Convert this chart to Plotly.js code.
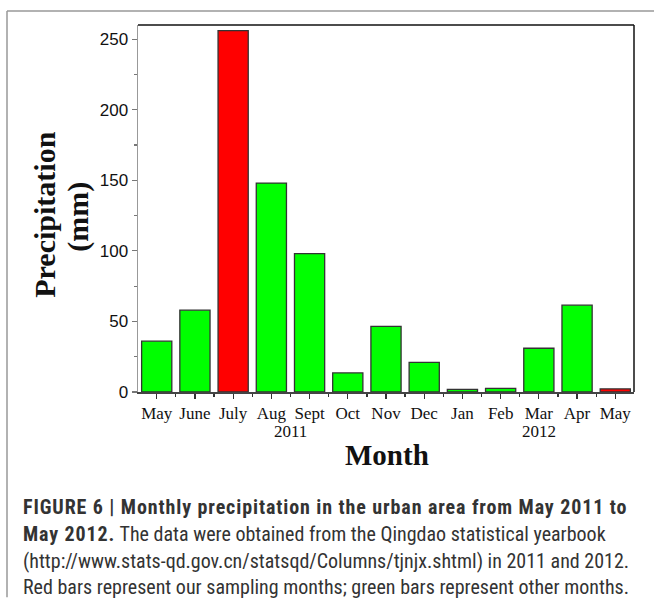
<!DOCTYPE html>
<html>
<head>
<meta charset="utf-8">
<script src="https://cdn.plot.ly/plotly-3.0.1.min.js"></script>
<style>
  html, body { margin: 0; padding: 0; background: #fff; }
  #chart { width: 654px; height: 598px; }
</style>
</head>
<body>
<div id="chart"></div>
<script>
// ---- data ----
const months = ["May", "June", "July", "Aug", "Sept", "Oct", "Nov", "Dec", "Jan", "Feb", "Mar", "Apr", "May"];
const precipitation = [36, 58, 256, 148, 98, 13.5, 46.5, 21, 1.8, 2.5, 31, 61.5, 2.2];
const sampled = [false, false, true, false, false, false, false, false, false, false, false, false, true];
const yTickVals = [0, 50, 100, 150, 200, 250];
const years = ["2011", "2012"];
const yearCenters = [3.5, 10];
const BOLD = '<span style="font-weight:bold;letter-spacing:0.9px">';
const captionLines = [
  BOLD + "FIGURE 6 | Monthly precipitation in the urban area from May 2011 to</span>",
  BOLD + "May 2012.</span> The data were obtained from the Qingdao statistical yearbook",
  "(http://www.stats-qd.gov.cn/statsqd/Columns/tjnjx.shtml) in 2011 and 2012.",
  "Red bars represent our sampling months; green bars represent other months."
];

// ---- geometry ----
const W = 654, H = 598;
const M = { l: 138, r: 20, t: 25, b: 205.5 };
const PW = W - M.l - M.r, PH = H - M.t - M.b;
const px2x = px => (px - M.l) / PW;
const px2y = py => (H - M.b - py) / PH;

const idx = months.map((_, i) => i);
const colors = sampled.map(s => s ? "#ff0000" : "#00ff00");

const trace = {
  type: "bar",
  x: idx,
  y: precipitation,
  width: 0.79,
  marker: { color: colors, line: { color: "#333", width: 1.3 } },
  hoverinfo: "skip"
};

const serif = "'Liberation Serif', 'Times New Roman', serif";
const sans = "'Liberation Sans', Arial, sans-serif";
const narrow = "'Liberation Sans Narrow', 'Arial Narrow', 'Roboto Condensed', sans-serif";

const annotations = [];
years.forEach((yr, i) => annotations.push({
  text: yr, xref: "x", yref: "paper", x: yearCenters[i], y: px2y(432),
  showarrow: false, xanchor: "center", yanchor: "middle",
  font: { family: serif, size: 17, color: "#111" }
}));
annotations.push({
  text: "<b>Month</b>", xref: "paper", yref: "paper", x: px2x(387), y: px2y(456),
  showarrow: false, xanchor: "center", yanchor: "middle",
  font: { family: serif, size: 29, color: "#111" }
});
annotations.push({
  text: "<b>Precipitation</b>", xref: "paper", yref: "paper", x: px2x(45), y: px2y(215),
  showarrow: false, xanchor: "center", yanchor: "middle", textangle: -90,
  font: { family: serif, size: 30, color: "#111" }
});
annotations.push({
  text: "<b>(mm)</b>", xref: "paper", yref: "paper", x: px2x(78), y: px2y(217),
  showarrow: false, xanchor: "center", yanchor: "middle", textangle: -90,
  font: { family: serif, size: 30, color: "#111" }
});
const capY = [508, 535, 562, 588];
captionLines.forEach((t, i) => annotations.push({
  text: t, xref: "paper", yref: "paper", x: px2x(21), y: px2y(capY[i]),
  showarrow: false, xanchor: "left", yanchor: "middle",
  font: { family: narrow, size: 20, color: "#333" }
}));

const shapes = [
  // outer frame (left + top)
  { type: "line", xref: "paper", yref: "paper", x0: px2x(7), x1: px2x(7), y0: px2y(11), y1: px2y(598), line: { color: "#999", width: 1.5 } },
  { type: "line", xref: "paper", yref: "paper", x0: px2x(7), x1: px2x(654), y0: px2y(11), y1: px2y(11), line: { color: "#999", width: 1.5 } },
  // plot frame top + right
  { type: "line", xref: "paper", yref: "paper", x0: 0, x1: 1, y0: 1, y1: 1, line: { color: "#111", width: 1.5 } },
  { type: "line", xref: "paper", yref: "paper", x0: 1, x1: 1, y0: 0, y1: 1, line: { color: "#111", width: 1.5 } }
];

const layout = {
  width: W, height: H,
  margin: M,
  paper_bgcolor: "#fff", plot_bgcolor: "#fff",
  showlegend: false,
  bargap: 0.2,
  xaxis: {
    range: [-0.49, 12.49],
    tickvals: idx, ticktext: months,
    ticks: "outside", ticklen: 5, tickwidth: 1.3, tickcolor: "#333",
    minor: { tickvals: idx.slice(0, -1).map(i => i + 0.5), ticks: "outside", ticklen: 3, tickwidth: 1.3, tickcolor: "#333" },
    showline: true, linecolor: "#444", linewidth: 1.5,
    showgrid: false, zeroline: false,
    tickfont: { family: serif, size: 17, color: "#111" }
  },
  yaxis: {
    range: [0, 260],
    tickvals: yTickVals,
    ticks: "outside", ticklen: 5, tickwidth: 1.2, tickcolor: "#777",
    minor: { dtick: 25, tick0: 0, ticks: "outside", ticklen: 3, tickwidth: 1.2, tickcolor: "#777" },
    showline: true, linecolor: "#999", linewidth: 1.5,
    showgrid: false, zeroline: false,
    tickfont: { family: sans, size: 17, color: "#111" }
  },
  annotations: annotations,
  shapes: shapes
};

Plotly.newPlot("chart", [trace], layout, { staticPlot: true, displayModeBar: false });
</script>
</body>
</html>
